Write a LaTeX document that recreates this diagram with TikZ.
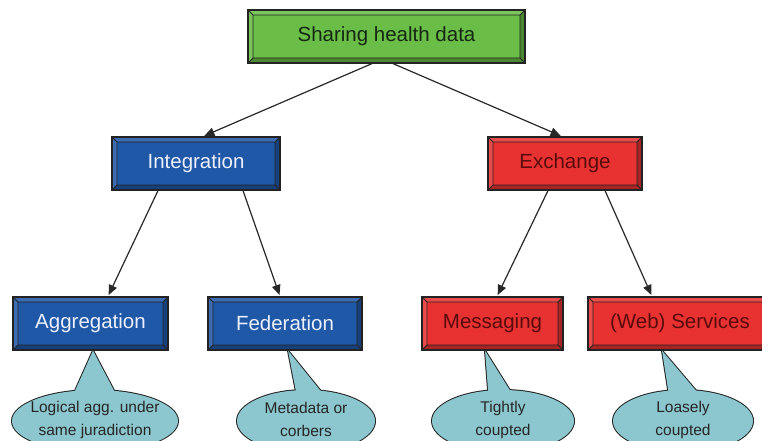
\documentclass[tikz,border=0pt]{standalone}
\usepackage{fontspec}
\setmainfont{Liberation Sans}
\usetikzlibrary{arrows.meta}

\definecolor{edge}{RGB}{35,35,35}
\definecolor{rootgreen}{RGB}{106,189,70}
\definecolor{roottext}{RGB}{20,40,20}
\definecolor{integblue}{RGB}{32,88,168}
\definecolor{bluetext}{RGB}{235,240,250}
\definecolor{exchred}{RGB}{232,50,50}
\definecolor{redtext}{RGB}{90,12,12}
\definecolor{bubble}{RGB}{140,198,206}
\definecolor{linkgray}{RGB}{40,40,40}

\tikzset{
  bevel/.style={draw=edge, line width=1.2pt, fill=#1, inner sep=0pt, minimum height=53pt,
    font=\fontsize{20.5}{24}\selectfont,
    path picture={
      \path (path picture bounding box.south west) coordinate (sw)
            (path picture bounding box.south east) coordinate (se)
            (path picture bounding box.north east) coordinate (ne)
            (path picture bounding box.north west) coordinate (nw);
      % lit faces, top and left
      \fill[#1!88!white] (sw) -- (nw) -- (ne) -- ([shift={(-5pt,-5pt)}]ne)
        -- ([shift={(5pt,-5pt)}]nw) -- ([shift={(5pt,5pt)}]sw) -- cycle;
      % shaded faces, bottom and right
      \fill[#1!72!black] (sw) -- (se) -- (ne) -- ([shift={(-5pt,-5pt)}]ne)
        -- ([shift={(-5pt,5pt)}]se) -- ([shift={(5pt,5pt)}]sw) -- cycle;
      \draw[edge, line width=.8pt] ([shift={(5pt,5pt)}]sw) rectangle ([shift={(-5pt,-5pt)}]ne)
        (sw) -- ++(5pt,5pt) (se) -- ++(-5pt,5pt) (ne) -- ++(-5pt,-5pt) (nw) -- ++(5pt,-5pt);
    }},
  bubbleline/.style={draw=edge, line width=2pt, line join=round},
  bubbletext/.style={align=center, text=black!85, font=\fontsize{15.5}{23}\selectfont},
  link/.style={draw=linkgray, line width=1.2pt, -{Triangle[length=10pt,width=8.5pt]}, shorten >=1.5pt}
}

\begin{document}
\begin{tikzpicture}[x=1pt,y=-1pt]
    \useasboundingbox[fill=white] (0,0) rectangle (762,441);
    \clip (0,0) rectangle (762,441);

    % Boxen
    \node[bevel=rootgreen, text=roottext, minimum width=277pt] (share) at (386.5,36.5) {Sharing health data};

    \node[bevel=integblue, text=bluetext, minimum width=168pt] (integ) at (196,163.5) {Integration};
    \node[bevel=exchred, text=redtext, minimum width=154pt] (exch) at (565,163.5) {Exchange};

    \node[bevel=integblue, text=bluetext, minimum width=155pt] (aggr) at (90.5,323.5) {Aggregation};
    \node[bevel=integblue, text=bluetext, minimum width=154pt] (fede) at (285,323.5) {Federation};
    \node[bevel=exchred, text=redtext, minimum width=141pt] (mess) at (492.5,323.5) {Messaging};
    \node[bevel=exchred, text=redtext, minimum width=184pt] (web) at (680,323.5) {(Web) Services};

    % Pfeile
    \draw[link] ([xshift=-14.5pt]share.south) -- ([xshift=7pt]integ.north);
    \draw[link] ([xshift=6.5pt]share.south) -- ([xshift=-3pt]exch.north);
    \draw[link] ([xshift=-38pt]integ.south) -- ([xshift=17.5pt]aggr.north);
    \draw[link] ([xshift=47pt]integ.south) -- ([xshift=-5pt]fede.north);
    \draw[link] ([xshift=-17pt]exch.south) -- ([xshift=4.5pt]mess.north);
    \draw[link] ([xshift=40pt]exch.south) -- ([xshift=-28pt]web.north);

    % Sprechblasen
    \foreach \boxname/\dx/\cx/\rx/\lx/\rgt/\txt in {
        aggr/2.5/95/83/70/119/{Logical agg. under\\same juradiction},
        fede/3/306/69/298/328/{Metadata or\\corbers},
        mess/-7.5/503/71/489/516/{Tightly\\coupted},
        web/-18/683/70/670/704/{Loasely\\coupted}} {
        \coordinate (tip-\boxname) at ([xshift=\dx pt]\boxname.south);
        \draw[bubbleline] (tip-\boxname) -- (\lx,402) -- (\rgt,400) -- cycle;
        \draw[bubbleline] (\cx,421) ellipse [x radius=\rx pt, y radius=31pt];
        \fill[bubble] (tip-\boxname) -- (\lx,402) -- (\rgt,400) -- cycle;
        \fill[bubble] (\cx,421) ellipse [x radius=\rx pt, y radius=31pt];
        \node[bubbletext] (note-\boxname) at (\cx,419.5) {\txt};
    }
\end{tikzpicture}
\end{document}
